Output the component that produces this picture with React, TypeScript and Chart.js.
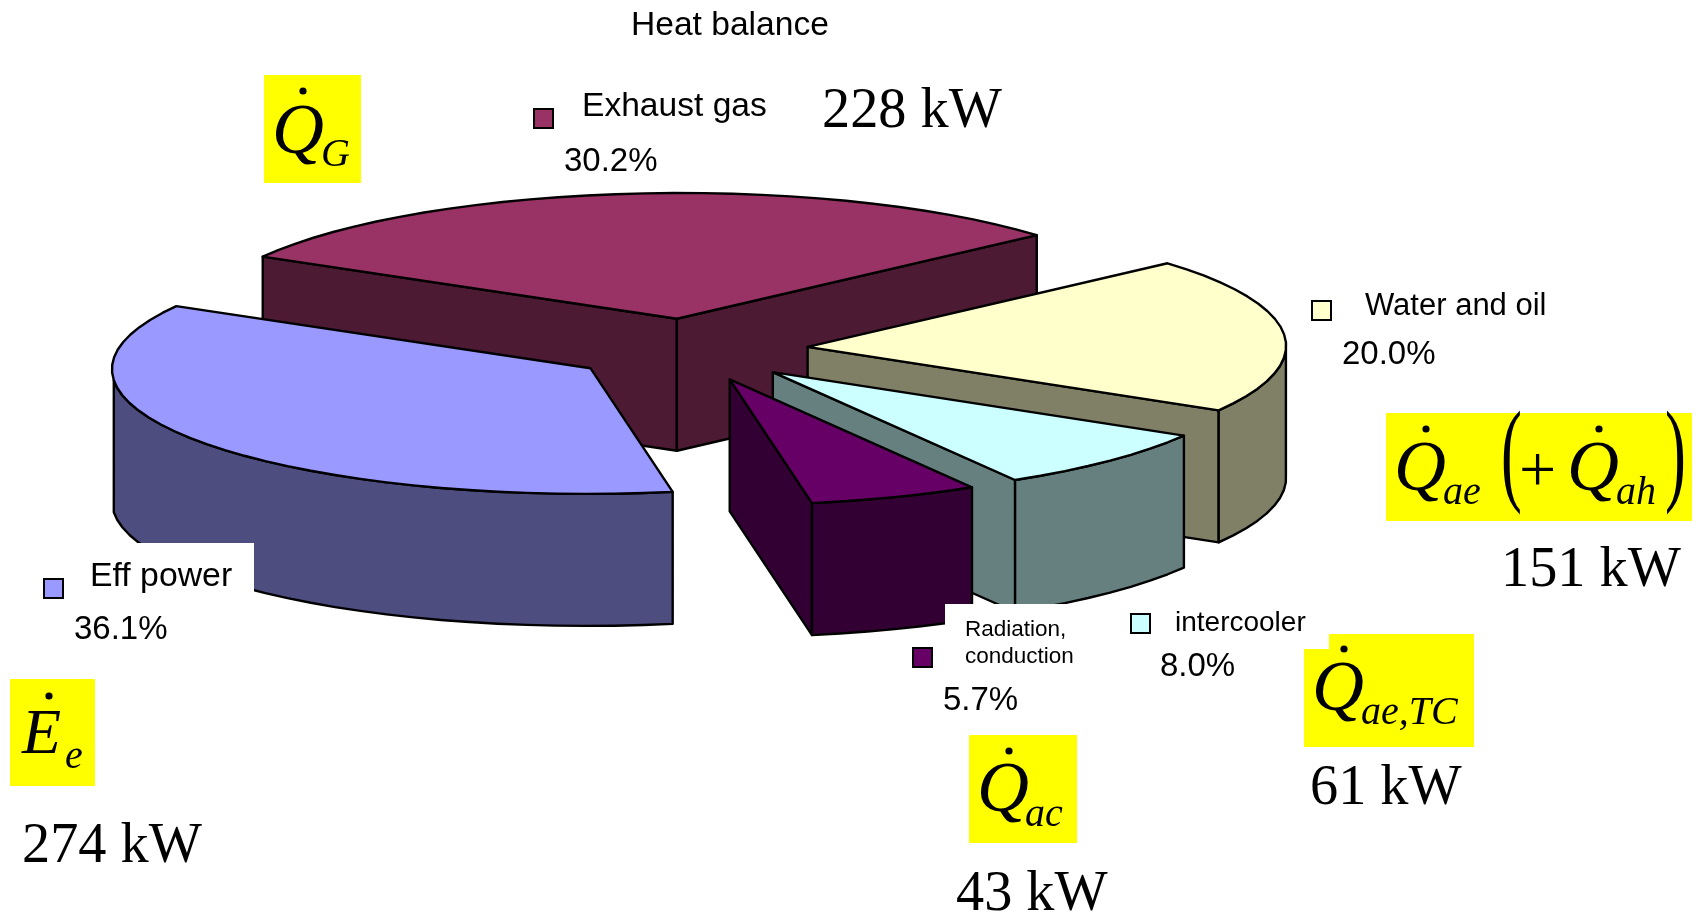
import React, { useEffect, useRef } from "react";
import { Chart, registerables } from "chart.js";

Chart.register(...registerables);

// Heat balance shares, in percent
const categories = ["Eff power", "Exhaust gas", "Water and oil", "intercooler", "Radiation, conduction"];
const shares = [36.1, 30.2, 20.0, 8.0, 5.7];
const powerLabels = ["274 kW", "228 kW", "151 kW", "61 kW", "43 kW"];

const topColors = ["#9999ff", "#993366", "#ffffcc", "#ccffff", "#660066"];
const wallColors = ["#4d4d80", "#4d1a33", "#808066", "#668080", "#330033"];

// Slices are painted back to front
const paintOrder = [1, 2, 3, 4, 0];

// Oblique projection of the pie plane on the canvas
const PLANE = { ox: 688.5, oy: 350, cx: 411, cy: 63.5, sx: -245, sy: 108.5, depth: 132, explode: 0.25 };

const SANS = '"Liberation Sans"';
const SERIF = '"Liberation Serif"';
const INK = "#000000";

type Txt = { t: string; x: number; y: number; font: string; xs?: number };

const whiteBoxes = [
  [0, 543, 254, 80],
  [945, 604, 155, 80],
];
const yellowBoxes = [
  [264, 75, 97, 108],
  [1386, 413, 306, 108],
  [1329, 634, 145, 20],
  [1304, 649, 170, 98],
  [969, 735, 108, 108],
  [10, 679, 85, 107],
];

const legendMarkers = [
  { i: 0, x: 44, y: 579 },
  { i: 1, x: 534, y: 109 },
  { i: 2, x: 1312, y: 301 },
  { i: 3, x: 1131, y: 614 },
  { i: 4, x: 913, y: 648 },
];

const sans = (size: number) => `${size}px ${SANS}`;
const LABEL = sans(33);
const KW = `56.3px ${SERIF}`;
const SYM = `italic 72px ${SERIF}`;
const SUB = `italic 40px ${SERIF}`;

const pct = (i: number) => `${shares[i].toFixed(1)}%`;
const [radiationA, radiationB] = categories[4].split(" ");

const textItems: Txt[] = [
  { t: "Heat balance", x: 631, y: 35, font: sans(33.6) },
  { t: categories[0], x: 90, y: 586, font: sans(33.8) },
  { t: pct(0), x: 74, y: 639, font: LABEL },
  { t: categories[1], x: 582, y: 116, font: sans(33.6) },
  { t: pct(1), x: 564, y: 171, font: LABEL },
  { t: categories[2], x: 1365, y: 315, font: sans(31) },
  { t: pct(2), x: 1342, y: 364, font: LABEL },
  { t: categories[3], x: 1175, y: 631, font: sans(28) },
  { t: pct(3), x: 1160, y: 676, font: LABEL },
  { t: radiationA, x: 965, y: 636, font: sans(22.5) },
  { t: radiationB, x: 965, y: 663, font: sans(22.5) },
  { t: pct(4), x: 943, y: 710, font: LABEL },
  { t: powerLabels[0], x: 22, y: 862, font: KW },
  { t: powerLabels[1], x: 822, y: 127, font: KW },
  { t: powerLabels[2], x: 1501, y: 586, font: KW },
  { t: powerLabels[3], x: 1310, y: 804, font: KW },
  { t: powerLabels[4], x: 956, y: 910, font: KW },
  // Symbols with their subscripts
  { t: "Q", x: 272, y: 153, font: SYM },
  { t: "G", x: 321, y: 166, font: SUB },
  { t: "Q", x: 1394, y: 490, font: SYM },
  { t: "ae", x: 1443, y: 504, font: SUB },
  { t: "+", x: 1519, y: 491, font: `66px ${SERIF}` },
  { t: "Q", x: 1567, y: 490, font: SYM },
  { t: "ah", x: 1616, y: 504, font: SUB },
  { t: "(", x: 1501, y: 490, font: `114px ${SERIF}`, xs: 0.55 },
  { t: ")", x: 1665, y: 490, font: `114px ${SERIF}`, xs: 0.55 },
  { t: "Q", x: 1312, y: 710, font: SYM },
  { t: "ae,TC", x: 1361, y: 724, font: SUB },
  { t: "Q", x: 977, y: 811, font: SYM },
  { t: "ac", x: 1025, y: 826, font: SUB },
  { t: "E", x: 22, y: 753, font: `italic 64px ${SERIF}` },
  { t: "e", x: 65, y: 768, font: SUB },
];

const symbolDots = [
  [303, 91],
  [1426, 429],
  [1599, 429],
  [1344, 649],
  [1009, 751],
  [49, 696],
];

const projector = (arc: any) => {
  const mid = (arc.startAngle + arc.endAngle) / 2;
  const P = PLANE;
  const ox = P.ox + P.explode * (P.cx * Math.cos(mid) + P.sx * Math.sin(mid));
  const oy = P.oy + P.explode * (P.cy * Math.cos(mid) + P.sy * Math.sin(mid));
  return {
    ox,
    oy,
    at: (a: number) => [ox + P.cx * Math.cos(a) + P.sx * Math.sin(a), oy + P.cy * Math.cos(a) + P.sy * Math.sin(a)],
  };
};

const shape = (ctx: CanvasRenderingContext2D, pts: number[][], fill: string) => {
  ctx.beginPath();
  pts.forEach((p, k) => (k ? ctx.lineTo(p[0], p[1]) : ctx.moveTo(p[0], p[1])));
  ctx.closePath();
  ctx.fillStyle = fill;
  ctx.fill();
  ctx.stroke();
};

const extrudedPie = {
  id: "extrudedPie",
  beforeDatasetDraw(chart: any, args: any) {
    const ctx: CanvasRenderingContext2D = chart.ctx;
    const P = PLANE;
    ctx.save();
    ctx.strokeStyle = INK;
    ctx.lineWidth = 2.4;
    ctx.lineJoin = "round";
    for (const i of paintOrder) {
      const arc = args.meta.data[i];
      const { ox, oy, at } = projector(arc);
      const a0 = arc.startAngle;
      const a1 = arc.endAngle;
      const wall = wallColors[i];
      const drop = (p: number[]) => [p[0], p[1] + P.depth];

      // Side faces turned towards the viewer
      const p0 = at(a0);
      const p1 = at(a1);
      if (p0[0] < ox) shape(ctx, [[ox, oy], p0, drop(p0), [ox, oy + P.depth]], wall);
      if (p1[0] > ox) shape(ctx, [[ox, oy], p1, drop(p1), [ox, oy + P.depth]], wall);

      // Rim is a faceted polyline; only the stretch running leftwards on screen faces forward
      const steps = Math.ceil((a1 - a0) / ((3.6 * Math.PI) / 180));
      const rim: number[][] = [];
      for (let k = 0; k <= steps; k++) rim.push(at(a0 + ((a1 - a0) * k) / steps));
      const front = rim.filter((p, k) => (k < steps ? rim[k + 1][0] < p[0] : rim[k - 1][0] > p[0]));
      if (front.length > 1) shape(ctx, [...front, ...front.map(drop).reverse()], wall);

      // Top face: the library's own arc element, sheared into the plane
      const R = arc.outerRadius;
      const m = [P.cx / R, P.cy / R, P.sx / R, P.sy / R];
      ctx.save();
      ctx.transform(m[0], m[1], m[2], m[3], ox - arc.x * m[0] - arc.y * m[2], oy - arc.x * m[1] - arc.y * m[3]);
      arc.draw(ctx);
      ctx.restore();

      ctx.beginPath();
      ctx.moveTo(ox, oy);
      rim.forEach((p) => ctx.lineTo(p[0], p[1]));
      ctx.closePath();
      ctx.stroke();
    }
    ctx.restore();
    return false;
  },
  afterDraw(chart: any) {
    const ctx: CanvasRenderingContext2D = chart.ctx;
    ctx.save();
    ctx.fillStyle = "#ffffff";
    whiteBoxes.forEach(([x, y, w, h]) => ctx.fillRect(x, y, w, h));
    ctx.fillStyle = "#ffff00";
    yellowBoxes.forEach(([x, y, w, h]) => ctx.fillRect(x, y, w, h));

    legendMarkers.forEach(({ i, x, y }) => {
      ctx.fillStyle = topColors[i];
      ctx.strokeStyle = INK;
      ctx.lineWidth = 2;
      ctx.fillRect(x, y, 19, 19);
      ctx.strokeRect(x, y, 19, 19);
    });

    ctx.fillStyle = INK;
    ctx.textBaseline = "alphabetic";
    textItems.forEach(({ t, x, y, font, xs }) => {
      ctx.font = font;
      if (xs) {
        ctx.save();
        ctx.translate(x, y);
        ctx.scale(xs, 1);
        ctx.fillText(t, 0, 0);
        ctx.restore();
      } else {
        ctx.fillText(t, x, y);
      }
    });
    symbolDots.forEach(([x, y]) => {
      ctx.beginPath();
      ctx.arc(x, y, 3.6, 0, Math.PI * 2);
      ctx.fill();
    });
    ctx.restore();
  },
};

export default function App() {
  const ref = useRef<HTMLCanvasElement>(null);
  useEffect(() => {
    const chart = new Chart(ref.current as HTMLCanvasElement, {
      type: "pie",
      data: {
        labels: categories,
        datasets: [{ data: shares, backgroundColor: topColors, borderWidth: 0 }],
      },
      options: {
        animation: false,
        responsive: false,
        rotation: 139.3,
        layout: { padding: 0 },
        plugins: { legend: { display: false }, tooltip: { enabled: false }, title: { display: false } },
      },
      plugins: [extrudedPie],
    } as any);
    return () => chart.destroy();
  }, []);
  return (
    <canvas
      ref={ref}
      width={1702}
      height={913}
      style={{ position: "absolute", left: 0, top: 0, display: "block" }}
    />
  );
}
